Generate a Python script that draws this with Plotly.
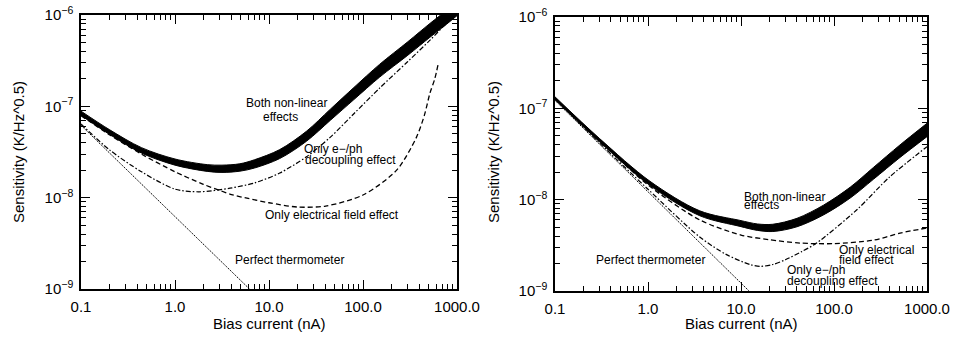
import plotly.graph_objects as go

# ---------------- data ----------------
# Left panel: "both non-linear effects" band (lower / upper edge of the thick curve)
L_both_I = [0.1, 0.2, 0.44, 1, 2.2, 3.16, 4.9, 7, 13, 25, 45, 80, 150, 300, 516, 780, 1000]
L_both_hi = [8.86e-8, 5.57e-8, 3.53e-8, 2.65e-8, 2.30e-8, 2.27e-8, 2.35e-8, 2.60e-8, 3.36e-8,
             5.33e-8, 9.32e-8, 1.608e-7, 2.88e-7, 5.10e-7, 8.09e-7, 1.13e-6, 1.39e-6]
L_both_lo = [7.96e-8, 4.95e-8, 3.08e-8, 2.27e-8, 1.94e-8, 1.89e-8, 1.95e-8, 2.11e-8, 2.68e-8,
             4.14e-8, 7.04e-8, 1.185e-7, 2.085e-7, 3.63e-7, 5.71e-7, 7.98e-7, 9.83e-7]

L_eph_I = [0.1, 0.2, 0.44, 1, 1.8, 3.85, 7, 13, 25, 45, 80, 150, 300, 516, 850, 1000]
L_eph_S = [6.4e-8, 3.35e-8, 1.92e-8, 1.24e-8, 1.16e-8, 1.27e-8, 1.45e-8, 1.86e-8, 2.8e-8,
           4.6e-8, 8.3e-8, 1.58e-7, 3.1e-7, 5.3e-7, 9.0e-7, 1.06e-6]

L_elec_I = [0.1, 0.2, 0.44, 1, 2, 3, 4, 6, 10, 20, 40, 100, 228, 371, 450, 516, 580, 633]
L_elec_S = [7.9e-8, 4.9e-8, 3.0e-8, 1.92e-8, 1.4e-8, 1.2e-8, 1.08e-8, 9.8e-9, 8.8e-9, 7.9e-9,
            8.1e-9, 1.07e-8, 2.0e-8, 4.6e-8, 8.0e-8, 1.4e-7, 2.0e-7, 2.95e-7]

L_perf_I = [0.1, 1, 10]
L_perf_S = [6.2e-8, 6.2e-9, 6.2e-10]

# Right panel
R_both_I = [0.1, 0.3, 1.05, 3.6, 9.75, 15, 22, 40, 77, 150, 265, 513, 1000]
R_both_hi = [1.335e-7, 4.69e-8, 1.59e-8, 7.55e-9, 5.93e-9, 5.42e-9, 5.38e-9, 6.25e-9, 8.70e-9,
             1.375e-8, 2.25e-8, 3.98e-8, 6.86e-8]
R_both_lo = [1.245e-7, 4.32e-8, 1.43e-8, 6.67e-9, 5.10e-9, 4.61e-9, 4.48e-9, 5.05e-9, 6.80e-9,
             1.045e-8, 1.67e-8, 2.90e-8, 4.90e-8]

R_eph_I = [0.1, 0.3, 1, 3.6, 7, 12.5, 16, 22, 30, 45, 65, 175, 398, 1000]
R_eph_S = [1.27e-7, 4.2e-8, 1.3e-8, 3.9e-9, 2.5e-9, 1.95e-9, 1.86e-9, 1.95e-9, 2.2e-9, 2.7e-9,
           3.35e-9, 7.7e-9, 1.78e-8, 3.8e-8]

R_elec_I = [0.1, 0.3, 1, 3.6, 10, 20, 43, 100, 265, 513, 1000]
R_elec_S = [1.28e-7, 4.4e-8, 1.45e-8, 6.0e-9, 4.1e-9, 3.65e-9, 3.35e-9, 3.3e-9, 3.6e-9, 4.3e-9, 4.9e-9]

R_perf_I = [0.1, 1, 10, 20]
R_perf_S = [1.22e-7, 1.22e-8, 1.22e-9, 6.1e-10]

x_tickvals = [0.1, 1, 10, 100, 1000]
x_ticktext = ["0.1", "1.0", "10.0", "100.0", "1000.0"]
y_tickvals = [1e-9, 1e-8, 1e-7, 1e-6]
y_ticktext = ["10<sup>−9</sup>", "10<sup>−8</sup>", "10<sup>−7</sup>", "10<sup>−6</sup>"]

x_minor = [k * 10.0 ** e for e in range(-1, 3) for k in range(2, 10)]
y_minor = [k * 10.0 ** e for e in range(-9, -6) for k in range(2, 10)]

FONT = "Liberation Sans, Arial, sans-serif"
W, H = 953, 337

fig = go.Figure()


def add_panel(xa, ya, both_I, both_lo, both_hi, eph_I, eph_S, elec_I, elec_S, perf_I, perf_S):
    common = dict(xaxis=xa, yaxis=ya, mode="lines", showlegend=False, hoverinfo="skip")
    fig.add_trace(go.Scatter(x=perf_I, y=perf_S, line=dict(color="black", width=1, dash="1.5px,1px"), **common))
    fig.add_trace(go.Scatter(x=elec_I, y=elec_S, line=dict(color="black", width=1.3, dash="5px,3px",
                                                           shape="spline", smoothing=0.8), **common))
    fig.add_trace(go.Scatter(x=eph_I, y=eph_S, line=dict(color="black", width=1.2, dash="5px,2px,1.5px,2px",
                                                         shape="spline", smoothing=0.8), **common))
    fig.add_trace(go.Scatter(x=both_I, y=both_lo, line=dict(color="black", width=1, shape="spline",
                                                            smoothing=0.9), **common))
    fig.add_trace(go.Scatter(x=both_I, y=both_hi, fill="tonexty", fillcolor="black",
                             line=dict(color="black", width=1, shape="spline", smoothing=0.9), **common))


add_panel("x", "y", L_both_I, L_both_lo, L_both_hi, L_eph_I, L_eph_S, L_elec_I, L_elec_S, L_perf_I, L_perf_S)
add_panel("x2", "y2", R_both_I, R_both_lo, R_both_hi, R_eph_I, R_eph_S, R_elec_I, R_elec_S, R_perf_I, R_perf_S)

xcommon = dict(type="log", range=[-1, 3], tickvals=x_tickvals, ticktext=x_ticktext,
               ticks="inside", ticklen=9, tickwidth=1.2, tickcolor="black",
               minor=dict(ticks="inside", ticklen=5, tickwidth=1, tickcolor="black", tickvals=x_minor, showgrid=False),
               showline=True, linecolor="black", linewidth=1.5, mirror="allticks",
               showgrid=False, zeroline=False, ticklabelstandoff=3, automargin=False,
               tickfont=dict(family=FONT, size=15, color="black"))
ycommon = dict(type="log", range=[-9, -6], tickvals=y_tickvals, ticktext=y_ticktext,
               ticks="inside", ticklen=9, tickwidth=1.2, tickcolor="black",
               minor=dict(ticks="inside", ticklen=5, tickwidth=1, tickcolor="black", tickvals=y_minor, showgrid=False),
               showline=True, linecolor="black", linewidth=1.5, mirror="allticks",
               showgrid=False, zeroline=False, ticklabelstandoff=3, automargin=False,
               tickfont=dict(family=FONT, size=15, color="black"))

fig.update_layout(
    width=W, height=H, margin=dict(l=0, r=0, t=0, b=0, autoexpand=False),
    paper_bgcolor="white", plot_bgcolor="white",
    xaxis=dict(domain=[81 / W, 457 / W], anchor="y", **xcommon),
    yaxis=dict(domain=[(H - 289) / H, (H - 15) / H], anchor="x", **ycommon),
    xaxis2=dict(domain=[555 / W, 927 / W], anchor="y2", **xcommon),
    yaxis2=dict(domain=[(H - 291) / H, (H - 17) / H], anchor="x2", **ycommon),
)

afont = dict(family=FONT, size=12, color="black")
notes = [
    # (text, x(log10), y(log10), xanchor, axis)
    ("Both non-linear", 1.19, -6.964, "center", 1),
    ("effects", 1.117, -7.117, "center", 1),
    ("Only e−/ph", 1.681, -7.468, "center", 1),
    ("decoupling effect", 1.862, -7.588, "center", 1),
    ("Only electrical field effect", 1.670, -8.191, "center", 1),
    ("Perfect thermometer", 1.223, -8.683, "center", 1),
    ("Both non-linear", 1.011, -7.972, "left", 2),
    ("effects", 1.011, -8.059, "left", 2),
    ("Only electrical", 2.032, -8.552, "left", 2),
    ("field effect", 2.032, -8.662, "left", 2),
    ("Only e−/ph", 1.473, -8.771, "left", 2),
    ("decoupling effect", 1.473, -8.892, "left", 2),
    ("Perfect thermometer", 0.0215, -8.662, "center", 2),
]
for t, x, y, xa, ax in notes:
    fig.add_annotation(text=t, x=x, y=y, xref="x" if ax == 1 else "x2", yref="y" if ax == 1 else "y2",
                       xanchor=xa, yanchor="middle", showarrow=False, font=afont)

tfont = dict(family=FONT, size=15, color="black")
for xc in (18, 493):
    fig.add_annotation(text="Sensitivity (K/Hz^0.5)", x=xc / W, y=1 - 152 / H, xref="paper", yref="paper",
                       textangle=-90, showarrow=False, font=tfont, xanchor="center", yanchor="middle")
for xc in (269, 741):
    fig.add_annotation(text="Bias current (nA)", x=xc / W, y=1 - 323 / H, xref="paper", yref="paper",
                       showarrow=False, font=tfont, xanchor="center", yanchor="middle")

fig.write_html(
    "out.html",
    config={"displayModeBar": False},
    post_script="document.body.style.margin='0';document.body.style.padding='0';"
                "document.body.style.overflow='hidden';",
)
